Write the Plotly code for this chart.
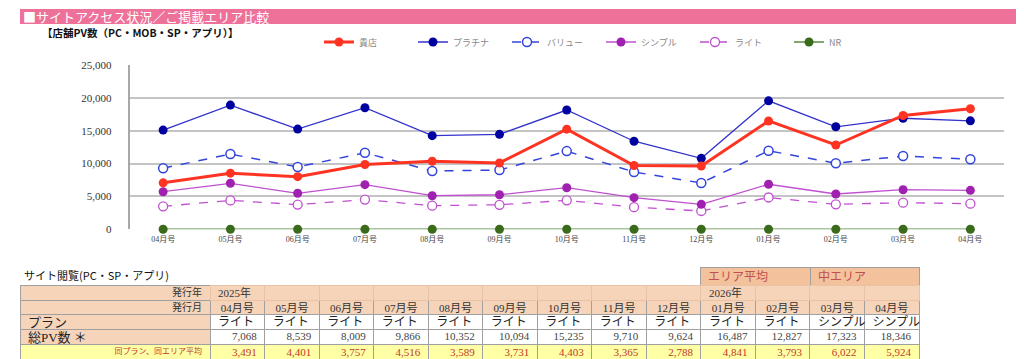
import plotly.graph_objects as go

# ---------------- data ----------------
months = ["04月号", "05月号", "06月号", "07月号", "08月号", "09月号", "10月号",
          "11月号", "12月号", "01月号", "02月号", "03月号", "04月号"]
kiten = [7068, 8539, 8009, 9866, 10352, 10094, 15235, 9710, 9624, 16487, 12827, 17323, 18346]
platinum = [15100, 18900, 15250, 18500, 14250, 14450, 18150, 13400, 10800, 19550, 15600, 16900, 16500]
value = [9300, 11450, 9480, 11650, 8870, 9020, 11900, 8720, 7050, 11950, 10050, 11150, 10650]
simple = [5720, 7000, 5480, 6790, 5110, 5260, 6330, 4810, 3800, 6850, 5370, 6022, 5924]
light = [3491, 4401, 3757, 4516, 3589, 3731, 4403, 3365, 2788, 4841, 3793, 4050, 3900]
nr = [0, 0, 0, 0, 0, 0, 0, 0, 0, 0, 0, 0, 0]

years = ["2025年", "", "", "", "", "", "", "", "", "2026年", "", "", ""]
plans = ["ライト"] * 11 + ["シンプル"] * 2
total_pv = [7068, 8539, 8009, 9866, 10352, 10094, 15235, 9710, 9624, 16487, 12827, 17323, 18346]
same_avg = [3491, 4401, 3757, 4516, 3589, 3731, 4403, 3365, 2788, 4841, 3793, 6022, 5924]
area_labels = ["エリア平均", "中エリア"]
row_labels = ["発行年", "発行月", "プラン", "総PV数 ＊", "同プラン、同エリア平均"]

W, H = 1024, 359
OFF = 8  # the page body adds an 8px margin; place things in page pixels
SERIF = "Liberation Serif, Noto Sans CJK JP"
SANS = "Noto Sans CJK JP"


def px_x(p):
    return (p - OFF) / W


def px_y(p):
    return 1 - (p - OFF) / H


xs = list(range(len(months)))

fig = go.Figure()

series = [
    ("NR", nr, dict(color="#5A8A40", width=1.5), dict(color="#3A6B1A", size=9), 6),
    ("ライト", light, dict(color="#C050D0", width=1.3, dash="dash"),
     dict(color="white", size=9, line=dict(color="#C050D0", width=1.3)), 5),
    ("シンプル", simple, dict(color="#C050D0", width=1.3), dict(color="#A020B0", size=9), 4),
    ("バリュー", value, dict(color="#3344DD", width=1.5, dash="dash"),
     dict(color="white", size=9, line=dict(color="#3344DD", width=1.5)), 3),
    ("プラチナ", platinum, dict(color="#3333CC", width=1.3), dict(color="#0000A0", size=9), 2),
    ("貴店", kiten, dict(color="#FF3322", width=3), dict(color="#FF3322", size=9), 1),
]
for name, ys, line, marker, rank in series:
    fig.add_trace(go.Scatter(x=xs, y=ys, name=name, mode="lines+markers",
                             line=line, marker=marker, cliponaxis=False,
                             legendrank=rank))

# ---------------- tables ----------------
peach = "#F6D4BA"
peach_line = "#EAC3A6"
yellow = "#FFFFA6"
white = "#FFFFFF"
red = "#C0392B"
dark = "#333333"
grid = "#A0A0A0"
clear = "rgba(0,0,0,0)"
n = len(months)
colw = [190] + [54.5] * n
TX = [px_x(20), px_x(919)]

# structure table: fills and borders only (empty texts keep exact row heights)
fig.add_trace(go.Table(
    domain=dict(x=TX, y=[0, px_y(285)]),
    columnwidth=colw,
    header=dict(values=[""] * (n + 1), fill_color=peach,
                line=dict(color=[grid] + [peach_line] * n, width=1), height=15),
    cells=dict(values=[[""] * 4 for _ in range(n + 1)],
               fill_color=[[peach, peach, peach, yellow]] + [[peach, white, white, yellow]] * n,
               line=dict(color=grid, width=1), height=14.75),
))
fig.add_trace(go.Table(
    domain=dict(x=[px_x(700), px_x(919)], y=[px_y(285), px_y(267)]),
    columnwidth=[110, 109],
    header=dict(values=["", ""], fill_color="#F3C19C",
                line=dict(color=grid, width=1), height=18),
    cells=dict(values=[[], []]),
))


# text tables: transparent, shifted up to counter the table's fixed cell padding
def text_row(values, top, bottom, aligns, fsizes, fcolors, family, x=TX, widths=colw):
    k = 6.5 + 0.5 * max(fsizes) - (bottom - top) / 2
    fig.add_trace(go.Table(
        domain=dict(x=x, y=[px_y(bottom), px_y(top - k)]),
        columnwidth=widths,
        header=dict(values=values, fill_color=clear,
                    line=dict(color=clear, width=0),
                    align=aligns,
                    font=dict(family=family, size=fsizes, color=fcolors),
                    height=bottom - top + k),
        cells=dict(values=[[] for _ in values]),
    ))


text_row([row_labels[0]] + years, 285, 300,
         ["right"] + ["left"] * n, [10] + [11] * n, [dark] * (n + 1), SERIF)
text_row([row_labels[1]] + months, 300, 315,
         ["right"] + ["center"] * n, [10] + [11] * n, [dark] * (n + 1), SERIF)
text_row([row_labels[2]] + plans, 315, 329.75,
         ["left"] * (n + 1), [13] + [12] * n, ["#222222"] * (n + 1), SANS)
text_row([row_labels[3]] + [f"{v:,}" for v in total_pv], 329.75, 344.5,
         ["left"] + ["right"] * n, [13] + [11] * n, ["#222222"] + ["#444444"] * n, SERIF)
text_row([row_labels[4]] + [f"{v:,}" for v in same_avg], 344.5, 359,
         ["right"] * (n + 1), [8] + [11] * n, [red] * (n + 1), SERIF)
text_row(area_labels, 267, 285, ["left", "left"], [12, 12], ["#C0504D"] * 2, SANS,
         x=[px_x(700), px_x(919)], widths=[110, 109])

# ---------------- layout ----------------
fig.update_layout(
    width=W, height=H,
    margin=dict(l=0, r=0, t=0, b=0, autoexpand=False),
    paper_bgcolor="white", plot_bgcolor="white",
    font=dict(family=SERIF, color=dark),
    xaxis=dict(domain=[px_x(129.5), px_x(1004)], range=[-0.5, n - 0.5],
               tickmode="array", tickvals=xs, ticktext=months,
               tickfont=dict(family=SERIF, size=8, color="#444444"),
               showgrid=False, zeroline=False, showline=False, ticks="",
               ticklabelstandoff=4),
    yaxis=dict(domain=[px_y(229.3), px_y(65)], range=[0, 25000],
               tickvals=[0, 5000, 10000, 15000, 20000, 25000], tickformat=",",
               tickfont=dict(family=SERIF, size=11, color="#333333"),
               showgrid=True, gridcolor="#C4C4C4", gridwidth=1.5,
               zeroline=False, showline=True, linecolor="#A8A8A8", linewidth=1.5,
               ticks="", ticklabelstandoff=14),
    legend=dict(orientation="h", x=px_x(319), y=px_y(42), xanchor="left", yanchor="middle",
                entrywidth=49, entrywidthmode="pixels", itemwidth=30,
                font=dict(family=SANS, size=9, color="#888888"),
                bgcolor="rgba(0,0,0,0)"),
    shapes=[dict(type="rect", xref="paper", yref="paper",
                 x0=px_x(20), x1=1, y0=px_y(24), y1=px_y(9),
                 fillcolor="#EE7199", line=dict(width=0), layer="below")],
    annotations=[
        dict(text="■サイトアクセス状況／ご掲載エリア比較", xref="paper", yref="paper",
             x=px_x(21), y=px_y(16.5), xanchor="left", yanchor="middle", showarrow=False,
             font=dict(family=SANS, size=13, color="white")),
        dict(text="<b>【店舗PV数（PC・MOB・SP・アプリ）】</b>", xref="paper", yref="paper",
             x=px_x(40), y=px_y(32.5), xanchor="left", yanchor="middle", showarrow=False,
             font=dict(family=SANS, size=10.5, color="#111111")),
        dict(text="サイト閲覧(PC・SP・アプリ)", xref="paper", yref="paper",
             x=px_x(22), y=px_y(275), xanchor="left", yanchor="middle", showarrow=False,
             font=dict(family=SANS, size=11, color="#111111")),
    ],
)

fig.write_html("out.html")
